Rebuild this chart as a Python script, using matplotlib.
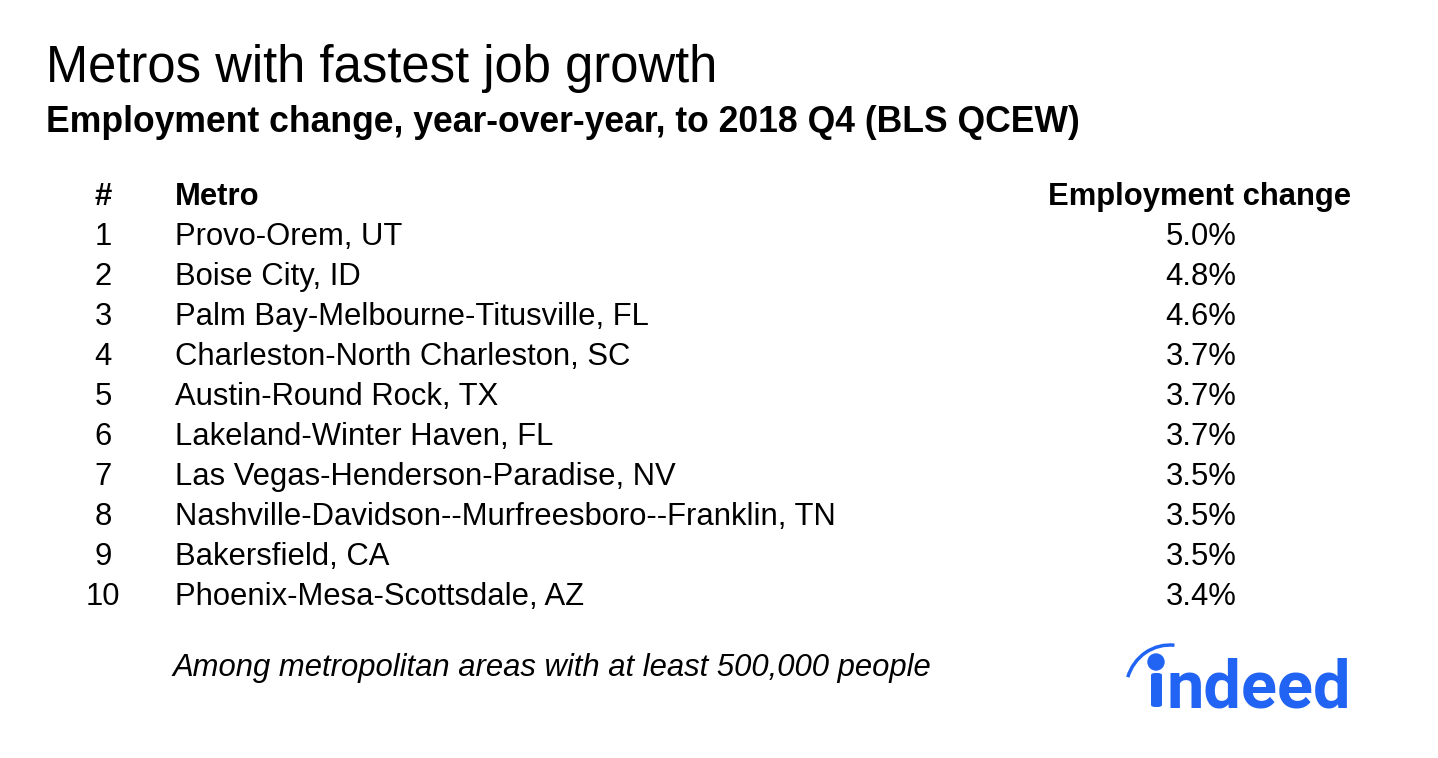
import matplotlib.pyplot as plt
from matplotlib.patches import Arc, Ellipse, FancyBboxPatch

ranks = [1, 2, 3, 4, 5, 6, 7, 8, 9, 10]
metros = [
    "Provo-Orem, UT",
    "Boise City, ID",
    "Palm Bay-Melbourne-Titusville, FL",
    "Charleston-North Charleston, SC",
    "Austin-Round Rock, TX",
    "Lakeland-Winter Haven, FL",
    "Las Vegas-Henderson-Paradise, NV",
    "Nashville-Davidson--Murfreesboro--Franklin, TN",
    "Bakersfield, CA",
    "Phoenix-Mesa-Scottsdale, AZ",
]
changes = [5.0, 4.8, 4.6, 3.7, 3.7, 3.7, 3.5, 3.5, 3.5, 3.4]

W, H = 1438, 758
plt.rcParams['font.family'] = ['Liberation Sans', 'DejaVu Sans']
fig = plt.figure(figsize=(W / 100, H / 100), dpi=100)
fig.patch.set_facecolor('white')


def put(x, y, s, **kw):
    # x, y in pixels from top-left, y is the baseline
    fig.text(x / W, 1 - y / H, s, va='baseline', **kw)


def fx(x):
    return x / W


def fy(y):
    return 1 - y / H


put(46, 82, "Metros with fastest job growth", fontsize=36.5, color='black')
put(46, 132, "Employment change, year-over-year, to 2018 Q4 (BLS QCEW)",
    fontsize=25.6, fontweight='bold', color='black')

fs = 22.3
# header
put(103, 205, "#", fontsize=fs, fontweight='bold', ha='center')
put(175, 205, "Metro", fontsize=fs, fontweight='bold')
put(1200, 205, "Employment change", fontsize=fs, fontweight='bold', ha='center')

# rows
for i, (r, m, c) in enumerate(zip(ranks, metros, changes)):
    yb = 245 + i * 40
    put(103, yb, str(r), fontsize=fs, ha='center', color='black')
    put(175, yb, m, fontsize=fs, color='black')
    put(1201, yb, f"{c:.1f}%", fontsize=fs, ha='center', color='black')

put(173, 676, "Among metropolitan areas with at least 500,000 people",
    fontsize=fs, style='italic', color='black')

# indeed logo
blue = '#2164f3'
fig.text(fx(1167), fy(707), "ndeed", fontsize=48, fontweight='bold',
         color=blue, va='baseline', family=['Roboto', 'DejaVu Sans'])
fig.patches.append(FancyBboxPatch((fx(1151), fy(707)), 11 / W, 34 / H,
                                  boxstyle="round,pad=0,rounding_size=0.003",
                                  transform=fig.transFigure, color=blue, lw=0))
fig.patches.append(Ellipse((fx(1156), fy(662)), 16 / W, 16 / H,
                           transform=fig.transFigure, color=blue))
fig.patches.append(Arc((fx(1170), fy(690)), 88 / W, 90 / H, theta1=87, theta2=150,
                       transform=fig.transFigure, color=blue, lw=2.5))

fig.savefig("out.png", dpi=100, facecolor='white')
